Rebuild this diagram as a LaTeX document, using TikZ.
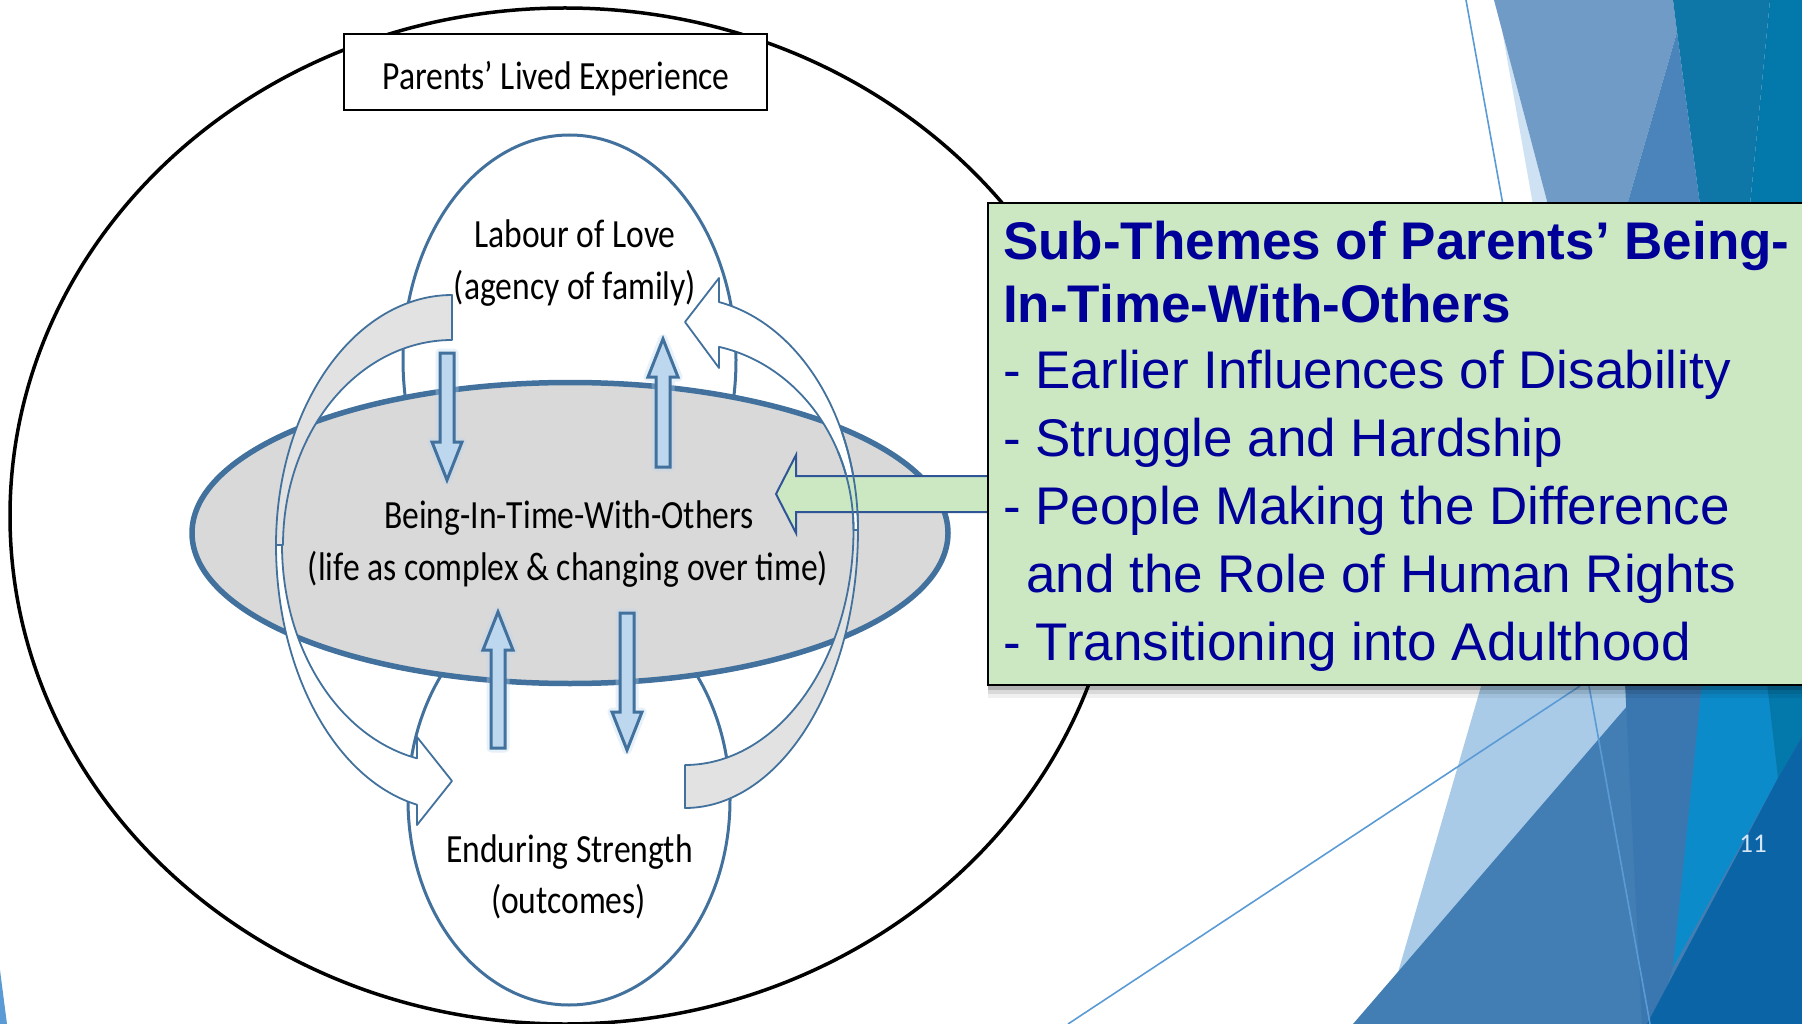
\documentclass[tikz,border=0pt]{standalone}
\usepackage{fontspec}
\setmainfont{Carlito}
\newfontfamily\dfont[FakeStretch=0.84]{Carlito}
\newfontfamily\afont{Liberation Sans}
\definecolor{steel}{RGB}{65,113,156}
\definecolor{cgrey}{RGB}{217,217,217}
\definecolor{bandgrey}{RGB}{226,226,226}
\definecolor{arrfill}{RGB}{189,215,238}
\definecolor{cgreen}{RGB}{204,232,195}
\definecolor{gstroke}{RGB}{47,85,151}
\definecolor{navy}{RGB}{0,0,153}
\definecolor{bgline}{RGB}{91,155,213}
\definecolor{csliver}{RGB}{207,226,243}
\definecolor{cmed}{RGB}{111,155,198}
\definecolor{cdarkB}{RGB}{74,132,186}
\definecolor{cteal}{RGB}{15,118,168}
\definecolor{cfar}{RGB}{3,120,171}
\definecolor{clight}{RGB}{169,203,232}
\definecolor{cmid}{RGB}{66,126,179}
\definecolor{cband}{RGB}{58,118,176}
\definecolor{cbright}{RGB}{12,139,202}
\definecolor{cdark}{RGB}{11,100,166}
\definecolor{numc}{RGB}{214,230,244}
\begin{document}
\begin{tikzpicture}[x=1pt,y=-1pt,
  dtext/.style={font=\dfont\fontsize{40}{48}\selectfont, inner sep=0, anchor=base},
  btext/.style={font=\afont\fontsize{53}{60}\selectfont, text=navy, inner sep=0, anchor=base west},
  band/.style={draw=steel, line width=1.8, line join=round},
  blockarrow/.style={draw=steel, fill=arrfill, line width=3, line join=miter},
  glow/.style={draw=arrfill, line width=9, opacity=0.35, line join=round},
  bgl/.style={draw=bgline, line width=1.6}]
\useasboundingbox (0,0) rectangle (1802,1024);
% background facets
\fill[csliver] (1502,30) -- (1533,205) -- (1548,205) -- cycle;
\fill[cmed] (1494,0) -- (1673,0) -- (1677,32) -- (1627,205) -- (1548,205) -- cycle;
\fill[cdarkB] (1677,32) -- (1627,205) -- (1700,205) -- cycle;
\fill[cteal] (1673,0) -- (1770,0) -- (1750,205) -- (1700,205) -- (1677,32) -- cycle;
\fill[cfar] (1770,0) -- (1802,0) -- (1802,205) -- (1750,205) -- cycle;
\draw[bgl] (1466,0) -- (1503,205);
\fill[clight] (1482,683) -- (1700,683) -- (1700,1024) -- (1383,1024) -- cycle;
\fill[cmid] (1647,683) -- (1802,683) -- (1802,1024) -- (1353,1024) -- cycle;
\fill[cband] (1625,683) -- (1702,683) -- (1673,967) -- (1655,1024) -- (1642,1024) -- cycle;
\fill[cbright] (1702,683) -- (1767,683) -- (1778,778) -- (1673,967) -- cycle;
\fill[cfar] (1767,683) -- (1802,683) -- (1802,737) -- (1778,778) -- cycle;
\fill[cdark] (1802,737) -- (1778,778) -- (1647,1024) -- (1802,1024) -- cycle;
\draw[bgl] (1589,686) -- (1650,1024);
\draw[bgl] (1580,686) -- (1068,1024);
\fill[bgline] (0,970) -- (7,1024) -- (0,1024) -- cycle;
% outer circle
\draw[line width=3.5] (565,516) ellipse [x radius=555, y radius=508];
% title box
\draw[line width=2, fill=white] (344,34) rectangle (767,110);
\node[dtext] (ttl) at (556,90) {Parents’ Lived Experience};
% top and bottom ellipses
\draw[steel, line width=3, fill=white] (569.5,360) ellipse [x radius=166.5, y radius=225];
\draw[steel, line width=3, fill=white] (569,800) ellipse [x radius=161, y radius=205];
% centre ellipse
\filldraw[draw=steel, fill=cgrey, line width=5.5] (570,533) ellipse [x radius=378, y radius=150.5];
% vertical block arrows (glow, then arrow)
\draw[glow] (440,353) -- (454,353) -- (454,442) -- (462,442) -- (447,480) -- (432,442) -- (440,442) -- cycle;
\draw[glow] (656,467) -- (670,467) -- (670,377) -- (678,377) -- (663,339) -- (648,377) -- (656,377) -- cycle;
\draw[glow] (491,748) -- (505,748) -- (505,650) -- (513,650) -- (498,612) -- (483,650) -- (491,650) -- cycle;
\draw[glow] (620,613) -- (634,613) -- (634,712) -- (642,712) -- (627,750) -- (612,712) -- (620,712) -- cycle;
\filldraw[blockarrow] (440,353) -- (454,353) -- (454,442) -- (462,442) -- (447,480) -- (432,442) -- (440,442) -- cycle;
\filldraw[blockarrow] (656,467) -- (670,467) -- (670,377) -- (678,377) -- (663,339) -- (648,377) -- (656,377) -- cycle;
\filldraw[blockarrow] (491,748) -- (505,748) -- (505,650) -- (513,650) -- (498,612) -- (483,650) -- (491,650) -- cycle;
\filldraw[blockarrow] (620,613) -- (634,613) -- (634,712) -- (642,712) -- (627,750) -- (612,712) -- (620,712) -- cycle;
% left curved arrow
\filldraw[band, fill=bandgrey] plot[domain=-90:-180, samples=50, smooth] ({452+176*cos(\x)},{545+250*sin(\x)}) -- plot[domain=-180:-90, samples=50, smooth] ({452+169*cos(\x)},{545+205*sin(\x)}) -- cycle;
\filldraw[band, fill=white] plot[domain=180:101.5, samples=50, smooth] ({452+176*cos(\x)},{545+265*sin(\x)}) -- (417,825) -- (452,781) -- (417,737) -- (417,758) -- plot[domain=101.9:180, samples=50, smooth] ({452+170*cos(\x)},{545+218*sin(\x)}) -- cycle;
% right curved arrow
\filldraw[band, fill=bandgrey] plot[domain=90:0, samples=50, smooth] ({685+173*cos(\x)},{530+278*sin(\x)}) -- plot[domain=0:90, samples=50, smooth] ({685+168.5*cos(\x)},{530+235*sin(\x)}) -- cycle;
\filldraw[band, fill=white] plot[domain=0:-78.7, samples=50, smooth] ({685+173*cos(\x)},{530+232.5*sin(\x)}) -- (719,278) -- (685,322) -- (719,368) -- (719,347) -- plot[domain=-78.36:0, samples=50, smooth] ({685+168.5*cos(\x)},{530+187*sin(\x)}) -- cycle;
% green arrow
\filldraw[draw=gstroke, fill=cgreen, line width=2] (992,476) -- (796,476) -- (796,455) -- (776,494) -- (796,533) -- (796,512) -- (992,512);
\draw[band] plot[domain=-25:0, samples=20, smooth] ({685+173*cos(\x)},{530+232.5*sin(\x)});
\draw[band] plot[domain=-25:0, samples=20, smooth] ({685+168.5*cos(\x)},{530+187*sin(\x)});
% green box
\fill[black, opacity=0.3] (988,686) rectangle (1802,690);
\fill[black, opacity=0.15] (988,690) rectangle (1802,694);
\fill[black, opacity=0.06] (988,694) rectangle (1802,698);
\draw[line width=2.5, fill=cgreen] (988,203) rectangle (1815,685);
\node[btext, font=\afont\bfseries\fontsize{53}{60}\selectfont] (s1) at (1003,260) {Sub-Themes of Parents’ Being-};
\node[btext, font=\afont\bfseries\fontsize{53}{60}\selectfont] (s2) at (1003,323) {In-Time-With-Others};
\node[btext] (s3) at (1003,388) {- Earlier Influences of Disability};
\node[btext] (s4) at (1003,456) {- Struggle and Hardship};
\node[btext] (s5) at (1003,524) {- People Making the Difference};
\node[btext] (s6) at (1026,592) {and the Role of Human Rights};
\node[btext] (s7) at (1003,660) {- Transitioning into Adulthood};
% texts
\node[dtext] (l1) at (575,248) {Labour of Love};
\node[dtext] (l2) at (575,300) {(agency of family)};
\node[dtext] (c1) at (569,528) {Being-In-Time-With-Others};
\node[dtext] (c2) at (568,580) {(life as complex \& changing over time)};
\node[dtext] (e1) at (569.5,862) {Enduring Strength};
\node[dtext] (e2) at (568.5,913) {(outcomes)};
\node[font=\fontsize{27}{30}\selectfont, text=numc, inner sep=0, anchor=base] (num) at (1753,852) {11};
\end{tikzpicture}
\end{document}
